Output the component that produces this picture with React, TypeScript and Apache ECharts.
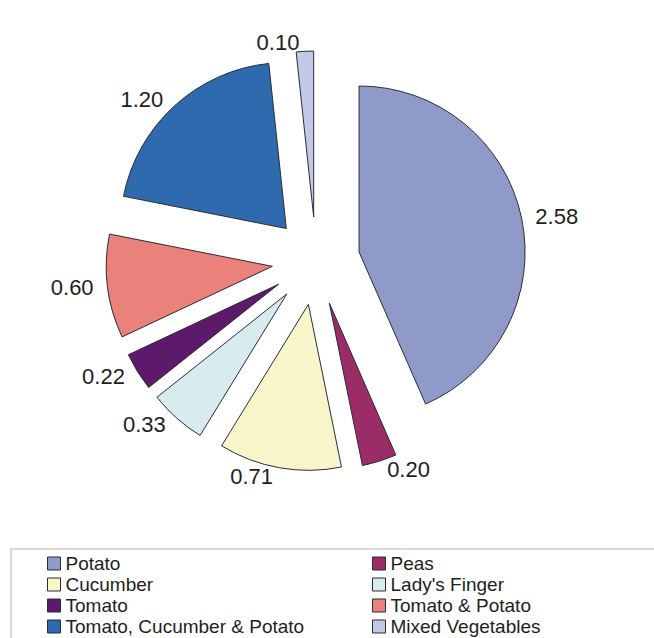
import React, { useEffect, useRef } from "react";
import * as echarts from "echarts";

const categories = [
  "Potato",
  "Peas",
  "Cucumber",
  "Lady's Finger",
  "Tomato",
  "Tomato & Potato",
  "Tomato, Cucumber & Potato",
  "Mixed Vegetables",
];
const values = [2.58, 0.2, 0.71, 0.33, 0.22, 0.6, 1.2, 0.1];
const colors = [
  "#8F9AC9",
  "#9C2C68",
  "#F8F5CB",
  "#D7EBEE",
  "#5D1A6A",
  "#EA817A",
  "#2F69AE",
  "#C3C8E7",
];
const legendLeft = ["Potato", "Cucumber", "Tomato", "Tomato, Cucumber & Potato"];
const legendRight = ["Peas", "Lady's Finger", "Tomato & Potato", "Mixed Vegetables"];

const FONT = "'Liberation Sans', Arial, Helvetica, sans-serif";

export default function App() {
  const ref = useRef<HTMLDivElement>(null);
  useEffect(() => {
    if (!ref.current) return;
    const chart = echarts.init(ref.current, undefined, { renderer: "svg" });
    const legendCommon = {
      orient: "vertical" as const,
      top: 553,
      padding: 0,
      itemGap: 0,
      itemWidth: 13,
      itemHeight: 13,
      icon: "rect",
      selectedMode: false,
      itemStyle: { borderColor: "#2b2b3a", borderWidth: 1 },
      textStyle: {
        fontFamily: FONT,
        fontSize: 19,
        color: "#1e1e1e",
        lineHeight: 21,
      },
    };
    chart.setOption({
      animation: false,
      backgroundColor: "#ffffff",
      legend: [
        { ...legendCommon, left: 47, data: legendLeft },
        { ...legendCommon, left: 372, data: legendRight },
      ],
      graphic: [
        {
          type: "rect",
          shape: { x: 11, y: 549, width: 700, height: 120 },
          style: { fill: "none", stroke: "#d9d9d9", lineWidth: 2 },
          silent: true,
        },
      ],
      series: [
        {
          type: "pie",
          center: [316, 261],
          radius: 166,
          startAngle: 90,
          clockwise: true,
          selectedMode: "multiple",
          selectedOffset: 44,
          avoidLabelOverlap: false,
          emphasis: { disabled: true },
          itemStyle: { borderColor: "#2b2b3a", borderWidth: 1 },
          label: {
            show: true,
            position: "outside",
            fontFamily: FONT,
            fontSize: 22,
            color: "#1e1e1e",
            formatter: (p: any) => Number(p.value).toFixed(2),
          },
          labelLine: { show: false, length: 9, length2: 0 },
          data: categories.map((name, i) => ({
            name,
            value: values[i],
            selected: true,
            itemStyle: { color: colors[i] },
          })),
        },
      ],
    });
    return () => chart.dispose();
  }, []);
  return (
    <div
      ref={ref}
      style={{ position: "fixed", left: 0, top: 0, width: 654, height: 638 }}
    />
  );
}
